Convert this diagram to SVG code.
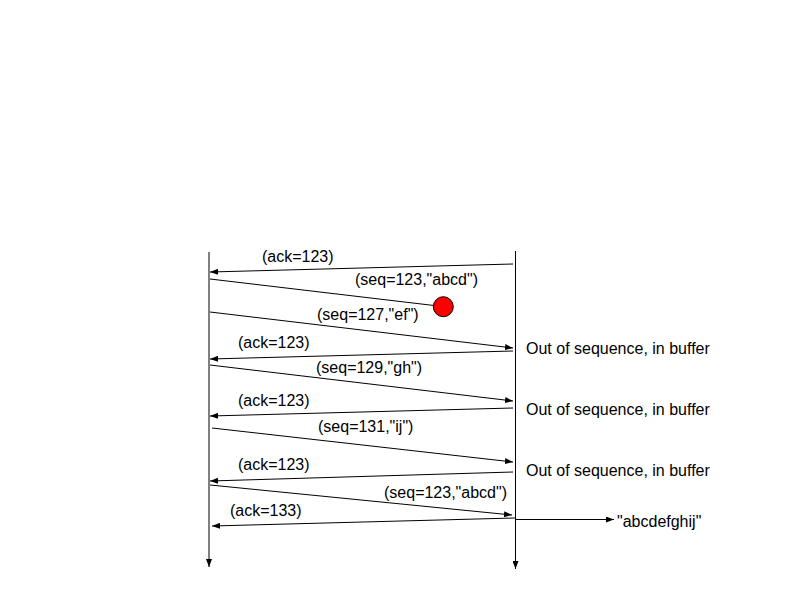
<svg xmlns="http://www.w3.org/2000/svg" width="793" height="595" viewBox="0 0 793 595">
<defs>
<marker id="ah" viewBox="0 0 8 6" refX="8" refY="3" markerWidth="8" markerHeight="6" markerUnits="userSpaceOnUse" orient="auto">
<path d="M0,0 L8,3 L0,6 Z" fill="#000"/>
</marker>
</defs>
<style>
.ln{stroke:#000;stroke-width:1;fill:none}
.ar{stroke:#000;stroke-width:1;fill:none;marker-end:url(#ah)}
text{font-family:"Liberation Sans",Arial,Helvetica,sans-serif;font-size:16px;fill:#000}
</style>
<rect width="793" height="595" fill="#fff"/>
<g id="connectors">
<line class="ar" x1="209" y1="252" x2="209" y2="567"/>
<line class="ar" x1="515.5" y1="251" x2="515.5" y2="569"/>
<line class="ar" x1="513" y1="264" x2="210" y2="272"/>
<line class="ln" x1="210" y1="279" x2="434" y2="305.5"/>
<line class="ar" x1="210" y1="312" x2="513" y2="348"/>
<line class="ar" x1="513" y1="351" x2="210" y2="359"/>
<line class="ar" x1="210" y1="365" x2="513" y2="401"/>
<line class="ar" x1="513" y1="408" x2="210" y2="416"/>
<line class="ar" x1="212" y1="428" x2="513" y2="462"/>
<line class="ar" x1="513" y1="472" x2="210" y2="481"/>
<line class="ar" x1="210" y1="485" x2="512" y2="515"/>
<line class="ar" x1="515" y1="518" x2="212" y2="526"/>
<line class="ar" x1="515" y1="519.5" x2="614" y2="519.5"/>
</g>
<g id="loss">
<circle cx="443.3" cy="306.7" r="10" fill="#f00" stroke="#000" stroke-width="1"/>
</g>
<g id="labels">
<text x="262" y="262">(ack=123)</text>
<text x="355" y="285">(seq=123,"abcd")</text>
<text x="317" y="320">(seq=127,"ef")</text>
<text x="238" y="348">(ack=123)</text>
<text x="316" y="373">(seq=129,"gh")</text>
<text x="238" y="406">(ack=123)</text>
<text x="318" y="432">(seq=131,"ij")</text>
<text x="238" y="470">(ack=123)</text>
<text x="384" y="498">(seq=123,"abcd")</text>
<text x="230" y="516">(ack=133)</text>
<text x="526" y="354">Out of sequence, in buffer</text>
<text x="526" y="415">Out of sequence, in buffer</text>
<text x="526" y="476">Out of sequence, in buffer</text>
<text x="617" y="527">"abcdefghij"</text>
</g>
</svg>
